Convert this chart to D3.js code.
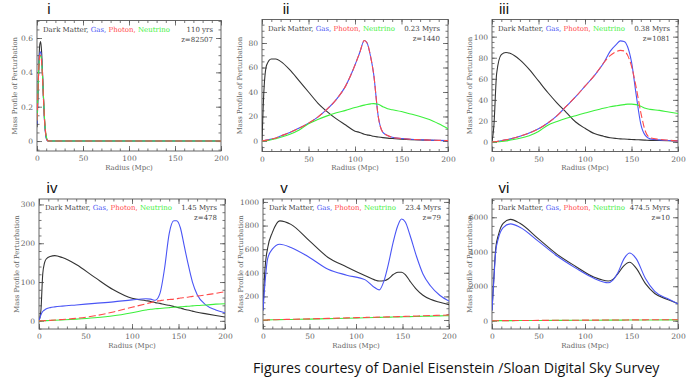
<!DOCTYPE html>
<html>
<head>
<meta charset="utf-8">
<script src="https://cdn.jsdelivr.net/npm/d3@7"></script>
<style>
  body { margin: 0; background: #fff; }
  svg { display: block; }
  .tick text { font-family: "DejaVu Serif", serif; font-size: 7.5px; fill: #666; }
  .axis path.domain { display: none; }
  .axis line { stroke: #555; stroke-width: 0.8; }
</style>
</head>
<body>
<svg id="chart" width="692" height="385"></svg>
<script>
// shared labels
const radiusTicks = [0, 50, 100, 150, 200];
const panelNames = ["i", "ii", "iii", "iv", "v", "vi"];
const panelAges = ["110 yrs", "0.23 Myrs", "0.38 Myrs", "1.45 Myrs", "23.4 Myrs", "474.5 Myrs"];
const panelRedshifts = ["z=82507", "z=1440", "z=1081", "z=478", "z=79", "z=10"];
const seriesNames = ["Dark Matter", "Gas", "Photon", "Neutrino"];

// panel i  (110 yrs)
const r1   = [0, 1, 2, 3, 4, 5, 6, 7, 8, 9, 10, 11, 12, 14, 20, 50, 100, 150, 200];
const dm1  = [0.08, 0.25, 0.45, 0.56, 0.58, 0.52, 0.40, 0.26, 0.14, 0.06, 0.02, 0.005, 0, 0, 0, 0, 0, 0, 0];
const gas1 = [0.10, 0.27, 0.44, 0.51, 0.52, 0.48, 0.38, 0.25, 0.13, 0.06, 0.02, 0.005, 0, 0, 0, 0, 0, 0, 0];
const ph1  = [0.12, 0.28, 0.43, 0.50, 0.50, 0.46, 0.37, 0.25, 0.14, 0.07, 0.025, 0.008, 0, 0, 0, 0, 0, 0, 0];
const nu1  = [0.12, 0.28, 0.43, 0.49, 0.50, 0.47, 0.38, 0.26, 0.15, 0.07, 0.03, 0.01, 0, 0, 0, 0, 0, 0, 0];
const yTicks1 = [0, 0.2, 0.4, 0.6];

// panel ii  (0.23 Myrs)
const r2   = [0, 2, 5, 10, 15, 20, 30, 40, 50, 60, 70, 80, 90, 100, 105, 110, 113, 117, 120, 125, 130, 135, 140, 150, 160, 170, 180, 190, 200];
const dm2  = [0, 40, 62, 67, 67, 65, 58, 49, 40, 31, 24, 18, 13, 8, 7, 5.5, 5, 4.4, 3.8, 3.2, 2.7, 2.3, 2, 1.5, 1.1, 0.8, 0.6, 0.4, 0.3];
const gas2 = [0, 0.3, 0.7, 1.5, 2.5, 4, 7, 10.5, 14.5, 19.5, 26, 34, 45, 62, 72, 82, 80, 68, 55, 20, 7, 4.5, 3, 2, 1.4, 1, 0.7, 0.5, 0.3];
const ph2  = [0, 0.3, 0.7, 1.5, 2.5, 4, 7, 10.5, 14.5, 19.5, 26, 34, 45, 62, 72, 82, 80, 68, 55, 20, 7, 4.5, 3, 2, 1.4, 1, 0.7, 0.5, 0.3];
const nu2  = [0, 0.1, 0.3, 1, 1.8, 3, 5.5, 9, 14, 17.5, 20.5, 23, 25, 27.3, 28.3, 29.3, 29.8, 30.3, 30.5, 30, 28, 26.3, 25.5, 24, 22, 20, 17.5, 14, 10];
const yTicks2 = [0, 20, 40, 60, 80];

// panel iii  (0.38 Myrs)
const r3   = [0, 2, 5, 10, 15, 20, 30, 40, 50, 60, 70, 80, 90, 100, 110, 120, 127, 134, 138, 142, 146, 150, 155, 160, 165, 170, 180, 190, 200];
const dm3  = [0, 15, 65, 83, 85, 84, 78, 69, 58, 47, 37, 28, 19, 13, 8, 5.5, 4, 3.3, 3, 2.8, 2.6, 2.4, 2.2, 2, 1.8, 1.6, 1.4, 1.2, 1];
const gas3 = [0, 0.2, 0.5, 1.2, 2, 3, 5.5, 8.5, 12.5, 18, 25, 34, 43, 53, 63, 75, 86, 93, 96, 95.5, 90, 76, 45, 17, 6, 3, 2, 1.5, 1];
const ph3  = [0, 0.2, 0.5, 1.2, 2, 3, 5.5, 8.5, 12.5, 18, 25, 34, 43, 53, 63, 75, 82, 86, 87, 86.5, 82, 72, 52, 28, 10, 4, 2.5, 1.7, 1];
const nu3  = [0, 0.05, 0.2, 0.5, 1, 2, 3.5, 6, 10, 16, 19.5, 22.5, 25, 27.5, 30, 32, 33.5, 34.5, 35, 35.5, 36, 36, 35.5, 34, 32, 31, 30, 28.5, 27];
const yTicks3 = [0, 20, 40, 60, 80, 100];

// panel iv  (1.45 Myrs)
const r4   = [0, 2, 4, 6, 8, 12, 17, 25, 40, 60, 80, 100, 115, 120, 125, 130, 135, 140, 145, 148, 152, 156, 160, 165, 170, 180, 190, 200];
const dm4  = [0, 25, 120, 150, 160, 166, 168, 163, 145, 112, 80, 58, 52, 50, 47, 45, 42, 40, 37, 35, 33, 30, 28, 25, 22, 18, 14, 10];
const gas4 = [0, 15, 24, 28, 31, 34, 36, 38, 41, 45, 49, 54, 57, 56, 53, 70, 135, 225, 258, 258, 240, 195, 150, 100, 68, 40, 28, 21];
const ph4  = [0, 0.1, 0.3, 0.5, 0.8, 1.3, 2, 3.5, 6.5, 13, 23, 35, 44, 47, 50, 52, 54, 55, 56, 57, 59, 60, 61, 63, 64, 67, 71, 75];
const nu4  = [0, 0.1, 0.2, 0.4, 0.6, 1, 1.5, 2.5, 4.5, 8, 13, 21, 28, 30, 31, 32, 33, 34, 35, 35.5, 36, 37, 37.5, 38.5, 39.5, 41, 43, 44];
const yTicks4 = [0, 100, 200, 300];

// panel v  (23.4 Myrs)
const r5   = [0, 2, 5, 10, 18, 30, 50, 70, 90, 110, 120, 125, 130, 135, 140, 145, 149, 153, 158, 165, 172, 180, 190, 200];
const dm5  = [80, 420, 610, 740, 840, 810, 670, 530, 450, 375, 340, 330, 333, 350, 385, 405, 405, 385, 330, 260, 210, 175, 150, 130];
const gas5 = [80, 300, 520, 600, 642, 615, 530, 430, 380, 340, 275, 255, 330, 480, 660, 800, 855, 830, 720, 540, 390, 290, 210, 160];
const ph5  = [0, 0.5, 1, 2, 4, 6, 10, 14, 18, 22, 24, 25, 26, 27, 28, 29, 30, 31, 32, 34, 36, 38, 40, 42];
const nu5  = [0, 0.4, 1, 2, 3, 5, 8, 12, 15, 19, 21, 22, 23, 24, 25, 26, 27, 27.5, 28.5, 30, 31.5, 33, 35, 37];
const yTicks5 = [0, 200, 400, 600, 800, 1000];

// panel vi  (474.5 Myrs)
const r6   = [0, 2, 4, 7, 12, 20, 30, 50, 70, 90, 110, 125, 130, 135, 142, 148, 155, 165, 175, 188, 200];
const dm6  = [600, 2500, 4200, 5000, 5650, 5880, 5650, 4750, 3850, 3150, 2520, 2300, 2400, 2700, 3200, 3390, 3050, 2150, 1580, 1250, 1000];
const gas6 = [600, 2400, 4000, 4800, 5400, 5620, 5420, 4600, 3750, 3050, 2450, 2200, 2350, 2750, 3600, 3930, 3600, 2450, 1700, 1300, 980];
const ph6  = [0, 1, 2, 3, 5, 8, 12, 18, 24, 30, 36, 40, 42, 43, 45, 47, 49, 52, 55, 58, 60];
const nu6  = [0, 1, 2, 3, 4, 6, 9, 14, 19, 24, 29, 33, 34, 35, 37, 39, 41, 43, 45, 48, 50];
const yTicks6 = [0, 2000, 4000, 6000];

const panels = [
  { r: r1, s: [dm1, gas1, ph1, nu1], yTicks: yTicks1, yDomain: [-0.058, 0.702], yMinor: 0.05, fmt: d => d === 0 ? "0" : d.toFixed(1) },
  { r: r2, s: [dm2, gas2, ph2, nu2], yTicks: yTicks2, yDomain: [-8.6, 99.2], yMinor: 5 },
  { r: r3, s: [dm3, gas3, ph3, nu3], yTicks: yTicks3, yDomain: [-9, 116.3], yMinor: 5 },
  { r: r4, s: [dm4, gas4, ph4, nu4], yTicks: yTicks4, yDomain: [-21, 314], yMinor: 20 },
  { r: r5, s: [dm5, gas5, ph5, nu5], yTicks: yTicks5, yDomain: [-76, 1025], yMinor: 50 },
  { r: r6, s: [dm6, gas6, ph6, nu6], yTicks: yTicks6, yDomain: [-480, 7060], yMinor: 500 }
];

// plot boxes and label spots
const boxes = [
  { x0: 37,  x1: 221, y0: 20.5, y1: 151,   lx: 49,  ly: 14 },
  { x0: 262, x1: 448, y0: 19.5, y1: 151.5, lx: 286, ly: 14 },
  { x0: 492, x1: 678, y0: 19.5, y1: 151.5, lx: 504, ly: 14 },
  { x0: 39,  x1: 225, y0: 199,  y1: 329,   lx: 52,  ly: 193 },
  { x0: 263, x1: 449, y0: 199,  y1: 329,   lx: 284, ly: 193 },
  { x0: 492, x1: 678, y0: 199,  y1: 329,   lx: 504, ly: 193 }
];

// draw order: dm, gas, neutrino, photon (dashed on top)
const seriesColor = ["#333333", "#4a55f5", "#ff4a4a", "#3cf03c"];
const drawOrder = [0, 1, 3, 2];

const svg = d3.select("#chart");
svg.append("rect").attr("width", 692).attr("height", 385).attr("fill", "#fff");

panels.forEach((p, i) => {
  const b = boxes[i];
  const g = svg.append("g");
  const x = d3.scaleLinear().domain([0, 200]).range([b.x0, b.x1]);
  const y = d3.scaleLinear().domain(p.yDomain).range([b.y1, b.y0]);

  const clipId = "clip" + i;
  g.append("clipPath").attr("id", clipId)
    .append("rect").attr("x", b.x0).attr("y", b.y0).attr("width", b.x1 - b.x0).attr("height", b.y1 - b.y0);

  const xMinor = d3.range(0, 201, 10);
  const yMinor = d3.range(Math.ceil(p.yDomain[0] / p.yMinor) * p.yMinor, p.yDomain[1], p.yMinor);
  const fmt = p.fmt || (d => d);

  // bottom
  g.append("g").attr("class", "axis").attr("transform", `translate(0,${b.y1})`)
    .call(d3.axisBottom(x).tickValues(xMinor).tickSize(-2.5).tickFormat(""));
  g.append("g").attr("class", "axis").attr("transform", `translate(0,${b.y1})`)
    .call(d3.axisBottom(x).tickValues(radiusTicks).tickSize(-5).tickPadding(5));
  // top
  g.append("g").attr("class", "axis").attr("transform", `translate(0,${b.y0})`)
    .call(d3.axisTop(x).tickValues(xMinor).tickSize(-2.5).tickFormat(""));
  g.append("g").attr("class", "axis").attr("transform", `translate(0,${b.y0})`)
    .call(d3.axisTop(x).tickValues(radiusTicks).tickSize(-5).tickFormat(""));
  // left
  g.append("g").attr("class", "axis").attr("transform", `translate(${b.x0},0)`)
    .call(d3.axisLeft(y).tickValues(yMinor).tickSize(-2.5).tickFormat(""));
  g.append("g").attr("class", "axis").attr("transform", `translate(${b.x0},0)`)
    .call(d3.axisLeft(y).tickValues(p.yTicks).tickSize(-5).tickPadding(4).tickFormat(fmt));
  // right
  g.append("g").attr("class", "axis").attr("transform", `translate(${b.x1},0)`)
    .call(d3.axisRight(y).tickValues(yMinor).tickSize(-2.5).tickFormat(""));
  g.append("g").attr("class", "axis").attr("transform", `translate(${b.x1},0)`)
    .call(d3.axisRight(y).tickValues(p.yTicks).tickSize(-5).tickFormat(""));

  g.append("rect")
    .attr("x", b.x0).attr("y", b.y0)
    .attr("width", b.x1 - b.x0).attr("height", b.y1 - b.y0)
    .attr("fill", "none").attr("stroke", "#555").attr("stroke-width", 0.9);

  const line = d3.line()
    .x(d => x(d[0]))
    .y(d => y(d[1]))
    .curve(d3.curveMonotoneX);

  drawOrder.forEach(k => {
    const pts = p.r.map((r, j) => [r, p.s[k][j]]);
    g.append("path")
      .attr("clip-path", `url(#${clipId})`)
      .attr("d", line(pts))
      .attr("fill", "none")
      .attr("stroke", seriesColor[k])
      .attr("stroke-width", 1.1)
      .attr("stroke-dasharray", k === 2 ? "7,3" : null);
  });

  // legend
  const leg = g.append("text")
    .attr("x", b.x0 + 6).attr("y", b.y0 + 11)
    .style("font-family", "DejaVu Serif, serif").style("font-size", "7px");
  seriesNames.forEach((n, k) => {
    leg.append("tspan").attr("fill", k === 0 ? "#444" : seriesColor[k])
      .text(n + (k < 3 ? ", " : ""));
  });
  g.append("text")
    .attr("x", b.x1 - 8).attr("y", b.y0 + 11)
    .attr("text-anchor", "end").attr("fill", "#444")
    .style("font-family", "DejaVu Serif, serif").style("font-size", "7px")
    .text(panelAges[i]);
  g.append("text")
    .attr("x", b.x1 - 8).attr("y", b.y0 + 21)
    .attr("text-anchor", "end").attr("fill", "#444")
    .style("font-family", "DejaVu Serif, serif").style("font-size", "7px")
    .text(panelRedshifts[i]);

  // axis titles
  g.append("text")
    .attr("x", (b.x0 + b.x1) / 2).attr("y", b.y1 + 18.5)
    .attr("text-anchor", "middle").attr("fill", "#666")
    .style("font-family", "DejaVu Serif, serif").style("font-size", "7px")
    .text("Radius (Mpc)");
  g.append("text")
    .attr("transform", `translate(${b.x0 - 20},${(b.y0 + b.y1) / 2}) rotate(-90)`)
    .attr("text-anchor", "middle").attr("fill", "#666")
    .style("font-family", "DejaVu Serif, serif").style("font-size", "6.8px")
    .text("Mass Profile of Perturbation");

  // roman numeral
  svg.append("text")
    .attr("x", b.lx).attr("y", b.ly)
    .attr("text-anchor", "middle").attr("fill", "#111")
    .style("font-family", "Liberation Sans, Arial, sans-serif").style("font-size", "15px")
    .text(panelNames[i]);
});

svg.append("text")
  .attr("x", 253).attr("y", 373)
  .attr("fill", "#111")
  .style("font-family", "Open Sans, sans-serif").style("font-size", "14.2px")
  .text("Figures courtesy of Daniel Eisenstein /Sloan Digital Sky Survey");
</script>
</body>
</html>
